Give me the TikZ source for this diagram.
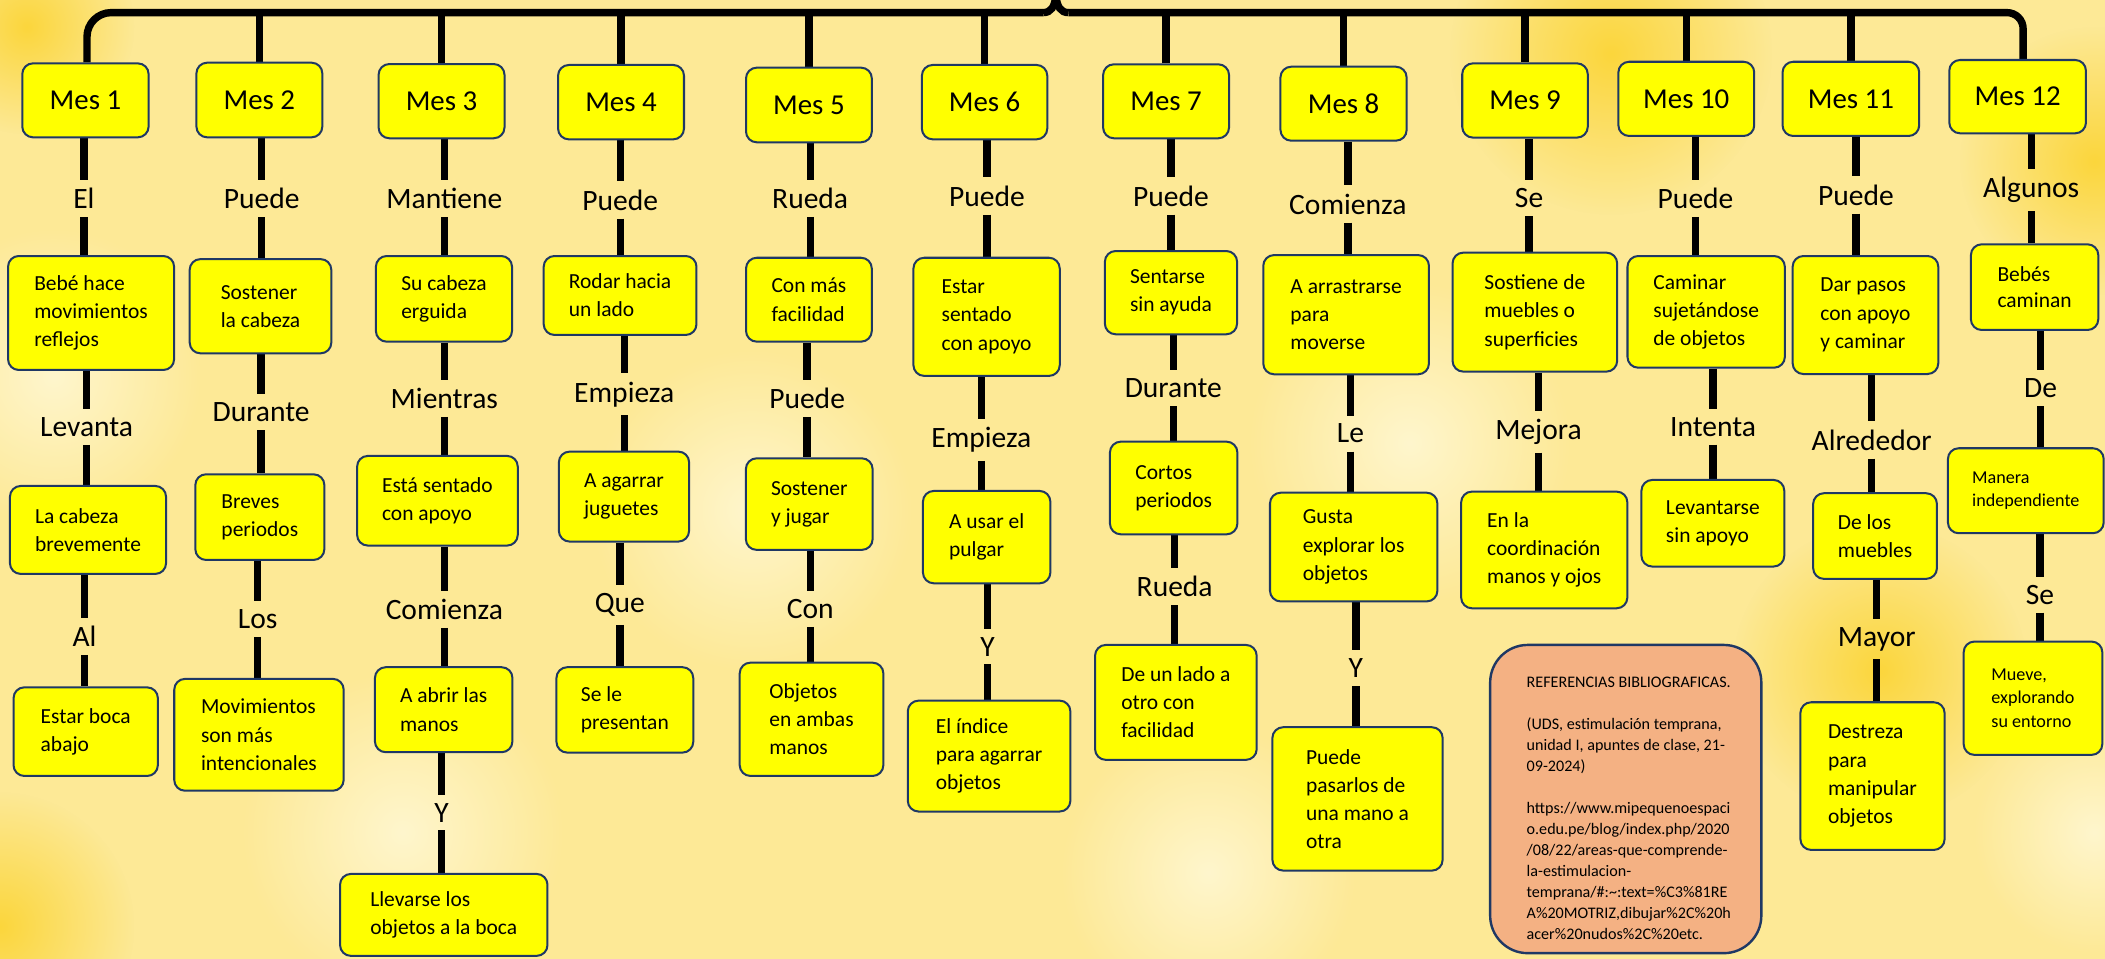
\documentclass[tikz,border=0pt]{standalone}
\usepackage{fontspec}
\setmainfont{Carlito}
\usetikzlibrary{fadings}
\tikzfading[name=blobfade, inner color=transparent!0, outer color=transparent!100]
\definecolor{bgyel}{RGB}{253,233,150}
\definecolor{deepyel}{RGB}{251,214,60}
\definecolor{lightyel}{RGB}{255,246,205}
\definecolor{boxyel}{RGB}{255,255,0}
\definecolor{navy}{RGB}{31,56,100}
\definecolor{salmon}{RGB}{244,177,131}
\newcommand\fsz[2]{\fontsize{#1}{#2}\selectfont}
\newcommand\mkbox[7]{%
  \pgfmathsetmacro\bw{#4-#2}\pgfmathsetmacro\bh{#5-#3}%
  \pgfmathsetmacro\bcx{(#2+#4)/2}\pgfmathsetmacro\bcy{(#3+#5)/2}%
  \node[#6, minimum width=\bw pt, minimum height=\bh pt] (#1) at (\bcx,\bcy) {#7};}
\newcommand\mklbl[4]{\node[lbl] (#1) at (#2,#3) {#4};}
\newcommand\vlink[3]{%
  \draw[conn] (#1.south -| #2) -- (#2.north);
  \draw[conn] (#2.south) -- (#2.south |- #3.north);}
\pgfdeclarelayer{bglayer}
\pgfdeclarelayer{connlayer}
\pgfsetlayers{bglayer,connlayer,main}
\tikzset{
  bx/.style={draw=navy, line width=1.5pt, fill=boxyel, rounded corners=8pt, align=left, inner sep=0pt, font=\fsz{16}{21}},
  mesbx/.style={bx, align=center, font=\fsz{21.5}{24}},
  smbx/.style={bx, font=\fsz{13.5}{17.5}},
  lbl/.style={inner xsep=0pt, inner ysep=6pt, font=\fsz{22}{24}},
  conn/.style={line width=5.5pt, draw=black},
  blob/.style={path fading=blobfade},
}
\begin{document}
\begin{tikzpicture}[x=1pt, y=-1pt]
\useasboundingbox (0,0) rectangle (1568,714);
\begin{pgfonlayer}{bglayer}
\fill[bgyel] (0,0) rectangle (1568,714);
\fill[deepyel, blob] (0,690) circle (100);
\fill[deepyel, blob] (1400,500) circle (110);
\fill[deepyel, blob] (1200,40) circle (120);
\fill[deepyel, blob] (1560,120) circle (100);
\fill[deepyel, blob] (20,20) circle (80);
\fill[lightyel, blob] (40,280) circle (110);
\fill[lightyel, blob] (560,380) circle (120);
\fill[lightyel, blob] (1050,330) circle (120);
\fill[lightyel, blob] (300,620) circle (120);
\fill[lightyel, blob] (900,650) circle (110);
\fill[lightyel, blob] (1560,620) circle (90);
\end{pgfonlayer}

% Month boxes
\mkbox{m1}{16.6}{47.2}{110.7}{102.3}{mesbx}{Mes 1}
\mkbox{m2}{146.3}{46.7}{240.1}{102.3}{mesbx}{Mes 2}
\mkbox{m3}{282}{47.7}{375.8}{103}{mesbx}{Mes 3}
\mkbox{m4}{415.7}{48.4}{509.5}{103.8}{mesbx}{Mes 4}
\mkbox{m5}{555.7}{50.4}{649.4}{106}{mesbx}{Mes 5}
\mkbox{m6}{686.7}{48.4}{780.1}{103.8}{mesbx}{Mes 6}
\mkbox{m7}{821.7}{47.9}{915.5}{103}{mesbx}{Mes 7}
\mkbox{m8}{953.8}{49.7}{1047.8}{104.8}{mesbx}{Mes 8}
\mkbox{m9}{1089.2}{47.2}{1182.7}{102.5}{mesbx}{Mes 9}
\mkbox{m10}{1205.5}{46}{1306.7}{101.3}{mesbx}{Mes 10}
\mkbox{m11}{1327.8}{46}{1429.6}{101.3}{mesbx}{Mes 11}
\mkbox{m12}{1452}{44.7}{1553.8}{99.3}{mesbx}{Mes 12}

% Column 1
\mklbl{l1a}{62.5}{148}{El}
\mkbox{b1a}{6}{190.7}{129.7}{275.6}{bx}{Bebé hace\\movimientos\\reflejos}
\mklbl{l1b}{64.5}{318}{Levanta}
\mkbox{b1b}{7.4}{362}{123.7}{427.5}{bx}{La cabeza\\brevemente}
\mklbl{l1c}{63}{474}{Al}
\mkbox{b1c}{10.1}{512}{117.6}{578}{bx}{Estar boca\\abajo}
% Column 2
\mklbl{l2a}{195}{148}{Puede}
\mkbox{b2a}{141.3}{193}{246.8}{263.2}{bx}{Sostener\\la cabeza}
\mklbl{l2b}{194.5}{307}{Durante}
\mkbox{b2b}{145.5}{353.3}{241.6}{417.1}{bx}{Breves\\periodos}
\mklbl{l2c}{192}{461}{Los}
\mkbox{b2c}{129.8}{505.7}{256}{589}{bx}{Movimientos\\son más\\intencionales}
% Column 3
\mklbl{l3a}{331}{148}{Mantiene}
\mkbox{b3a}{280}{190.7}{381.4}{254.5}{bx}{Su cabeza\\erguida}
\mklbl{l3b}{331}{296.7}{Mientras}
\mkbox{b3b}{266}{339.6}{385.7}{406.4}{bx}{Está sentado\\con apoyo}
\mklbl{l3c}{331}{453.8}{Comienza}
\mkbox{b3c}{279.3}{497}{381.7}{560.3}{bx}{A abrir las\\manos}
\mklbl{l3d}{329}{605.3}{Y}
\mkbox{b3d}{253.3}{651}{407.8}{712}{bx}{Llevarse los\\objetos a la boca}
% Column 4
\mklbl{l4a}{462}{149}{Puede}
\mkbox{b4a}{405}{190.7}{518.8}{249.5}{bx}{Rodar hacia\\un lado}
\mklbl{l4b}{465}{293.7}{Empieza}
\mkbox{b4b}{416.3}{336.4}{513.3}{403.4}{bx}{A agarrar\\juguetes}
\mklbl{l4c}{461.7}{450.6}{Que}
\mkbox{b4c}{414.5}{497}{516.4}{560.6}{bx}{Se le\\presentan}
% Column 5
\mklbl{l5a}{603.5}{147.7}{Rueda}
\mkbox{b5a}{555.7}{192}{649.4}{254.5}{bx}{Con más\\facilidad}
\mklbl{l5b}{601.2}{296.7}{Puede}
\mkbox{b5b}{555.6}{341.4}{650}{409.6}{bx}{Sostener\\y jugar}
\mklbl{l5c}{603.6}{453.6}{Con}
\mkbox{b5c}{551}{493.6}{658}{578}{bx}{Objetos\\en ambas\\manos}
% Column 6
\mklbl{l6a}{735.2}{146}{Puede}
\mkbox{b6a}{680.4}{192}{789.4}{280}{bx}{Estar\\sentado\\con apoyo}
\mklbl{l6b}{731}{327.7}{Empieza}
\mkbox{b6b}{687.5}{365.7}{782.4}{434.5}{bx}{A usar el\\pulgar}
\mklbl{l6c}{735.7}{481.6}{Y}
\mkbox{b6c}{676.2}{521.9}{797.3}{604.5}{bx}{El índice\\para agarrar\\objetos}
% Column 7
\mklbl{l7a}{872.3}{146}{Puede}
\mkbox{b7a}{823}{187}{921.5}{249}{bx}{Sentarse\\sin ayuda}
\mklbl{l7b}{874}{289.3}{Durante}
\mkbox{b7b}{826.8}{329}{921.7}{398}{bx}{Cortos\\periodos}
\mklbl{l7c}{875}{437}{Rueda}
\mkbox{b7c}{815.7}{480.4}{936.1}{566}{bx}{De un lado a\\otro con\\facilidad}
% Column 8
\mklbl{l8a}{1004}{152}{Comienza}
\mkbox{b8a}{941}{190}{1064.4}{278.8}{bx}{A arrastrarse\\para\\moverse}
\mklbl{l8b}{1006}{323}{Le}
\mkbox{b8b}{946}{367}{1070.7}{448}{bx}{Gusta\\explorar los\\objetos}
\mklbl{l8c}{1010}{497.8}{Y}
\mkbox{b8c}{947.8}{541.7}{1074.6}{648.5}{bx}{Puede\\pasarlos de\\una mano a\\otra}
% Column 9
\mklbl{l9a}{1139}{147.7}{Se}
\mkbox{b9a}{1082}{188.2}{1204.6}{276.8}{bx}{Sostiene de\\muebles o\\superficies}
\mklbl{l9b}{1146}{321.5}{Mejora}
\mkbox{b9b}{1088.4}{366.2}{1212.2}{453.1}{bx}{En la\\coordinación\\manos y ojos}
% Column 10
\mklbl{l10a}{1263}{147.7}{Puede}
\mkbox{b10a}{1212.3}{190.7}{1329.5}{273.9}{bx}{Caminar\\sujetándose\\de objetos}
\mklbl{l10b}{1276}{317.8}{Intenta}
\mkbox{b10b}{1222.7}{357.5}{1329.1}{422}{bx}{Levantarse\\sin apoyo}
% Column 11
\mklbl{l11a}{1382.5}{145.3}{Puede}
\mkbox{b11a}{1335.3}{190.7}{1443.8}{278.6}{bx}{Dar pasos\\con apoyo\\y caminar}
\mklbl{l11b}{1394.2}{327.7}{Alrededor}
\mkbox{b11b}{1350.6}{367.4}{1442.8}{431.2}{bx}{De los\\muebles}
\mklbl{l11c}{1398}{476.2}{Mayor}
\mkbox{b11c}{1341.1}{523.1}{1448.5}{633.1}{bx}{Destreza\\para\\manipular\\objetos}
% Column 12
\mklbl{l12a}{1513}{141.5}{Algunos}
\mkbox{b12a}{1468.1}{182}{1563}{245.8}{bx, font=\fsz{16}{19}}{Bebés\\caminan}
\mklbl{l12b}{1520}{289.3}{De}
\mkbox{b12b}{1451}{333.9}{1567}{397.2}{smbx}{Manera\\independiente}
\mklbl{l12c}{1519.5}{443}{Se}
\mkbox{b12c}{1462.7}{477.9}{1566}{562.3}{smbx}{Mueve,\\explorando\\su entorno}

% References
\mkbox{ref}{1110}{480.4}{1312}{710}{bx, fill=salmon, line width=1.8pt, rounded corners=28pt}{}
\node[anchor=north west, inner sep=0pt, align=left, font=\fsz{12}{15.6}] (reftxt) at (1137,504.3)
 {REFERENCIAS BIBLIOGRAFICAS.\\[15.6pt]
  (UDS, estimulación temprana,\\
  unidad I, apuntes de clase, 21-\\
  09-2024)\\[15.6pt]
  https://www.mipequenoespaci\\
  o.edu.pe/blog/index.php/2020\\
  /08/22/areas-que-comprende-\\
  la-estimulacion-\\
  temprana/\#:\textasciitilde:text=\%C3\%81RE\\
  A\%20MOTRIZ,dibujar\%2C\%20h\\
  acer\%20nudos\%2C\%20etc.};

\begin{pgfonlayer}{connlayer}
\coordinate (bl) at (64.8,9.4);
\coordinate (pkl) at (777,9.4);
\coordinate (pk) at (786.5,-3);
\coordinate (pkr) at (796,9.4);
\coordinate (br) at (1507,9.4);
\draw[conn, rounded corners=18pt] (m1.north -| bl) -- (bl) -- (pkl);
\draw[conn] (pkl) .. controls (783,9.4) and (785.5,5) .. (pk) .. controls (787.5,5) and (790,9.4) .. (pkr);
\draw[conn, rounded corners=12pt] (pkr) -- (br) -- (m12.north -| br);
\foreach \m in {m2,m3,m4,m5,m6,m7,m8,m9,m10,m11}{\draw[conn] (\m.north) -- (\m.north |- bl);}
\vlink{m1}{l1a}{b1a}\vlink{b1a}{l1b}{b1b}\vlink{b1b}{l1c}{b1c}
\vlink{m2}{l2a}{b2a}\vlink{b2a}{l2b}{b2b}\vlink{b2b}{l2c}{b2c}
\vlink{m3}{l3a}{b3a}\vlink{b3a}{l3b}{b3b}\vlink{b3b}{l3c}{b3c}\vlink{b3c}{l3d}{b3d}
\vlink{m4}{l4a}{b4a}\vlink{b4a}{l4b}{b4b}\vlink{b4b}{l4c}{b4c}
\vlink{m5}{l5a}{b5a}\vlink{b5a}{l5b}{b5b}\vlink{b5b}{l5c}{b5c}
\vlink{m6}{l6a}{b6a}\vlink{b6a}{l6b}{b6b}\vlink{b6b}{l6c}{b6c}
\vlink{m7}{l7a}{b7a}\vlink{b7a}{l7b}{b7b}\vlink{b7b}{l7c}{b7c}
\vlink{m8}{l8a}{b8a}\vlink{b8a}{l8b}{b8b}\vlink{b8b}{l8c}{b8c}
\vlink{m9}{l9a}{b9a}\vlink{b9a}{l9b}{b9b}
\vlink{m10}{l10a}{b10a}\vlink{b10a}{l10b}{b10b}
\vlink{m11}{l11a}{b11a}\vlink{b11a}{l11b}{b11b}\vlink{b11b}{l11c}{b11c}
\vlink{m12}{l12a}{b12a}\vlink{b12a}{l12b}{b12b}\vlink{b12b}{l12c}{b12c}
\end{pgfonlayer}
\end{tikzpicture}
\end{document}
